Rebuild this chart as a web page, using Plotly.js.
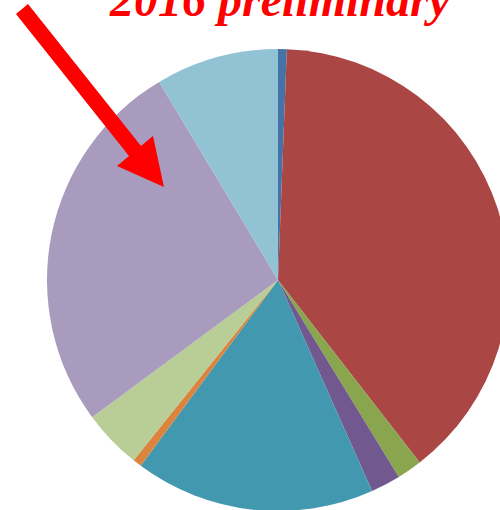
<!DOCTYPE html>
<html>
<head>
<meta charset="utf-8">
<script src="https://cdn.plot.ly/plotly-3.0.1.min.js"></script>
<style>
html, body { margin:0; padding:0; overflow:hidden; background:#fff; width:500px; height:510px; }
#chart { position:absolute; left:0; top:0; width:520px; height:520px; }
</style>
</head>
<body>
<div id="chart"></div>
<script>
// Data (shares in percent, clockwise from 12 o'clock)
var categories = ["Category 1", "Category 2", "Category 3", "Category 4", "Category 5",
                  "Category 6", "Category 7", "Category 8", "Category 9"];
var values = [0.61, 38.86, 1.75, 2.08, 16.8, 0.61, 4.14, 26.5, 8.6];
var colors = ["#4572A7", "#AA4643", "#89A54E", "#71588F", "#4198AF",
              "#DB843D", "#B9CD96", "#A99BBD", "#91C3D5"];
var titleText = "2016 preliminary";

// Layout geometry (pixels)
var W = 520, H = 520;
var cx = 278, cy = 280, R = 231;
var mL = cx - R, mT = cy - R, mR = W - (cx + R), mB = H - (cy + R);
function px(x) { return (x - mL) / (2 * R); }
function py(y) { return (mT + 2 * R - y) / (2 * R); }

// Decorative arrow outline (pixel points)
var arrowPts = [[16,14],[28,4],[141,146],[153,136],[164,187],[117,166],[129,156]];
var path = arrowPts.map(function (p, i) {
  return (i === 0 ? "M" : "L") + px(p[0]).toFixed(4) + "," + py(p[1]).toFixed(4);
}).join(" ") + " Z";

var trace = {
  type: "pie",
  labels: categories,
  values: values,
  sort: false,
  direction: "clockwise",
  rotation: 0,
  textinfo: "none",
  hoverinfo: "label+percent",
  marker: { colors: colors, line: { width: 0 } },
  domain: { x: [0, 1], y: [0, 1] }
};

var layout = {
  width: W, height: H,
  margin: { l: mL, r: mR, t: mT, b: mB, pad: 0 },
  showlegend: false,
  paper_bgcolor: "#ffffff",
  plot_bgcolor: "#ffffff",
  annotations: [{
    text: "<b><i>" + titleText + "</i></b>",
    xref: "paper", yref: "paper",
    x: px(279.5), y: py(-1),
    xanchor: "center", yanchor: "middle",
    showarrow: false,
    font: { family: "Liberation Serif, Times New Roman, serif", size: 48, color: "#FF0000" }
  }],
  shapes: [{
    type: "path", xref: "paper", yref: "paper",
    path: path,
    fillcolor: "#FF0000",
    line: { width: 0 },
    layer: "above"
  }]
};

Plotly.newPlot("chart", [trace], layout, { displayModeBar: false, staticPlot: true });
</script>
</body>
</html>
